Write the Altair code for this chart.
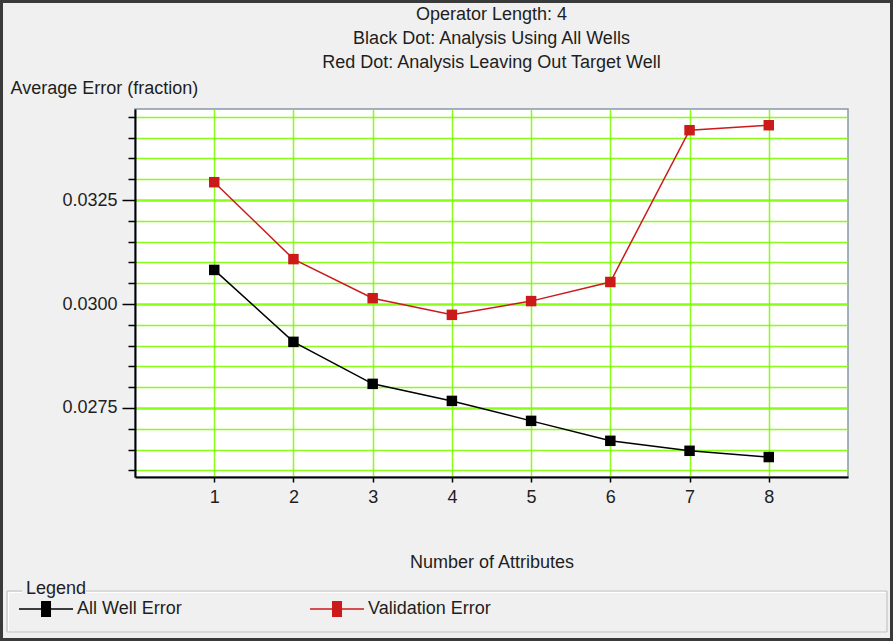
import altair as alt
import pandas as pd

# ---- data ----
attributes = [1, 2, 3, 4, 5, 6, 7, 8]
all_well_error = [0.03082, 0.02909, 0.02808, 0.02767, 0.02719, 0.02671, 0.02647, 0.02632]
validation_error = [0.03293, 0.03108, 0.03014, 0.02974, 0.03007, 0.03053, 0.03418, 0.03430]
series_names = ["All Well Error", "Validation Error"]
series_colors = ["#000000", "#cc1a1a"]
y_tick_values = [0.0260, 0.0265, 0.0270, 0.0275, 0.0280, 0.0285, 0.0290, 0.0295,
                 0.0300, 0.0305, 0.0310, 0.0315, 0.0320, 0.0325, 0.0330, 0.0335,
                 0.0340, 0.0345]
x_tick_values = [1, 2, 3, 4, 5, 6, 7, 8]
title_lines = ["Operator Length: 4", "Black Dot: Analysis Using All Wells",
               "Red Dot: Analysis Leaving Out Target Well"]

rows = []
for a, v in zip(attributes, all_well_error):
    rows.append({"attr": a, "err": v, "series": series_names[0]})
for a, v in zip(attributes, validation_error):
    rows.append({"attr": a, "err": v, "series": series_names[1]})
df = pd.DataFrame(rows)

FONT = "Liberation Sans"
FS = 18
TXT = "#1e1e1e"
GREEN = "#7cfc00"

# plot area geometry (pixels in the 893x641 canvas)
PL, PT, PR, PB = 135, 109, 848, 477
W, H = PR - PL, PB - PT

major_test = "round(datum.value * 10000) % 25 == 0"

x_enc = alt.X("attr:Q", scale=alt.Scale(domain=[0, 9], nice=False, zero=False),
              axis=alt.Axis(values=x_tick_values, tickCount=20, format="d", tickSize=5,
                            tickColor="black", tickWidth=1.5, domainColor="black", domainWidth=2,
                            gridColor=GREEN, gridWidth=1.5, gridOpacity=0.9,
                            labelFont=FONT, labelFontSize=FS, labelColor=TXT, labelPadding=6,
                            title="Number of Attributes", titleFont=FONT, titleFontSize=FS,
                            titleFontWeight="normal", titleColor=TXT, titleBaseline="middle",
                            titleY=85))
y_enc = alt.Y("err:Q", scale=alt.Scale(domain=[0.02584, 0.03469], nice=False, zero=False),
              axis=alt.Axis(values=y_tick_values, tickCount=40, labelOverlap=False,
                            labelExpr=f"{major_test} ? format(datum.value, '.4f') : ''",
                            tickSize={"condition": {"test": major_test, "value": 13}, "value": 7},
                            tickColor="black", tickWidth=1.5, domainColor="black", domainWidth=2,
                            gridColor=GREEN, gridOpacity=0.9,
                            gridWidth={"condition": {"test": major_test, "value": 2.5}, "value": 1.5},
                            labelFont=FONT, labelFontSize=FS, labelColor=TXT, labelPadding=5,
                            title="Average Error (fraction)", titleFont=FONT, titleFontSize=FS,
                            titleFontWeight="normal", titleColor=TXT, titleAngle=0,
                            titleAlign="left", titleBaseline="middle",
                            titleX=10 - PL, titleY=88 - PT))

legend_symbol = ("M-2.29,-0.1H5.43V0.1H-2.29Z "
                 "M0.86,-1.15H2.29V1.15H0.86Z")
legend = alt.Legend(orient="none", direction="horizontal",
                    legendX=26 - PL, legendY=580 - PT,
                    title="Legend", titleFont=FONT, titleFontSize=FS,
                    titleFontWeight="normal", titleColor=TXT, titlePadding=2,
                    symbolType=legend_symbol, symbolSize=196,
                    symbolStrokeWidth=0, symbolOpacity=1,
                    labelFont=FONT, labelFontSize=FS, labelColor=TXT,
                    labelOffset=33, columnPadding=127, padding=0)
color = alt.Color("series:N", scale=alt.Scale(domain=series_names, range=series_colors),
                  legend=legend)

base = alt.Chart(df)
lines = base.mark_line(strokeWidth=1.5).encode(x=x_enc, y=y_enc, color=color)
points = base.mark_square(size=110, opacity=1, filled=True).encode(
    x="attr:Q", y="err:Q", color=color)

one = pd.DataFrame({"k": [0]})

def rule(x1, x2, y1, y2, col, width):
    return alt.Chart(one).mark_rule(color=col, strokeWidth=width).encode(
        x=alt.value(x1 - PL), x2=alt.value(x2 - PL),
        y=alt.value(y1 - PT), y2=alt.value(y2 - PT))

# legend group box (etched look) and outer window frame
box = [
    rule(7, 22, 591, 591, "#c4c4c4", 1.2), rule(86, 887, 591, 591, "#c4c4c4", 1.2),
    rule(7, 7, 591, 632, "#c4c4c4", 1.2), rule(887, 887, 591, 632, "#c4c4c4", 1.2),
    rule(7, 887, 632, 632, "#c4c4c4", 1.2),
    rule(8, 22, 592.5, 592.5, "#ffffff", 1), rule(86, 886, 592.5, 592.5, "#ffffff", 1),
    rule(8.5, 8.5, 593, 631, "#ffffff", 1),
]
frame = alt.Chart(one).mark_rect(filled=False, stroke="#3a3a3a", strokeWidth=3).encode(
    x=alt.value(1.5 - PL), x2=alt.value(891.5 - PL),
    y=alt.value(1.5 - PT), y2=alt.value(639.5 - PT))

chart = alt.layer(*box, lines, points, frame).properties(
    width=W, height=H,
    autosize=alt.AutoSizeParams(type="none"),
    padding={"left": PL, "top": PT, "right": 893 - PR, "bottom": 641 - PB},
    background="#f0f0f0",
    title=alt.Title(title_lines, font=FONT, fontSize=FS, fontWeight="normal", color=TXT,
                    anchor="middle", frame="group", lineHeight=24, offset=-72),
).configure_view(stroke="#8796a8", strokeWidth=1.5, fill="white")

chart.save("out.html", embed_options={"renderer": "svg", "actions": False})
